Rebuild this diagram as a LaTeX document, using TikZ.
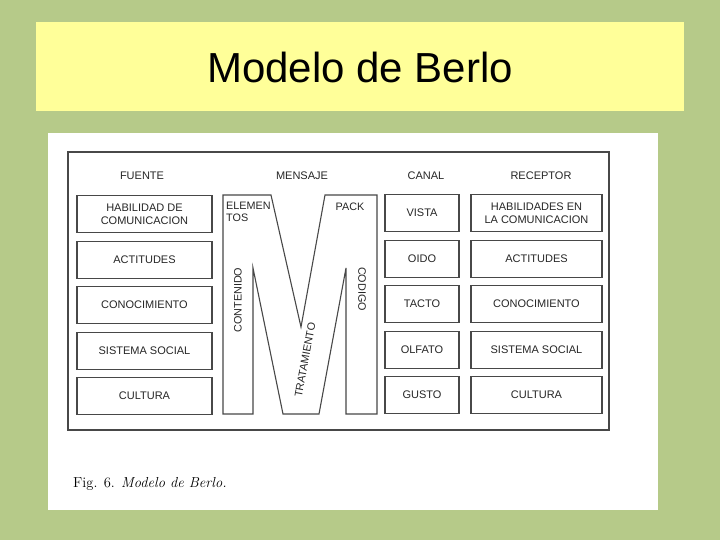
\documentclass[tikz,border=0pt]{standalone}
\usepackage{fontspec}
\setsansfont{Liberation Sans}

\definecolor{slidegreen}{RGB}{182,202,137}
\definecolor{titleyellow}{RGB}{255,255,153}
\definecolor{inkgray}{RGB}{72,72,72}

\newcommand*{\frmleft}{68}
\newcommand*{\frmright}{609}
\newcommand*{\frmtop}{152}
\newcommand*{\frmbottom}{430}
\newcommand*{\cellh}{37}

\begin{document}
\begin{tikzpicture}
[
	x=1pt,
	y=-1pt,
	cellbox/.style={draw=inkgray,line width=1.1pt,inner sep=0pt,minimum height=\cellh pt,
		align=center,text=black!85,font=\sffamily\fontsize{11}{13}\selectfont},
	heading/.style={text=black!85,font=\sffamily\fontsize{11}{13}\selectfont},
	mlabel/.style={inner sep=0pt,text=black!85,font=\sffamily\fontsize{10.8}{12}\selectfont},
	titletext/.style={font=\sffamily\fontsize{42}{50}\selectfont}
]

	% slide
	\fill[slidegreen] (0,0) rectangle (720,540);
	\useasboundingbox (0,0) rectangle (720,540);
	\fill[titleyellow] (36,22) rectangle (684,111);
	\node[titletext] (title) at (360,67) {Modelo de Berlo};
	\fill[white] (48,133) rectangle (658,510);

	% frame
	\draw[inkgray,line width=1.1pt] (\frmleft,\frmtop) rectangle (\frmright,\frmbottom);

	\node[heading] (fuente) at (142,176) {FUENTE};
	\node[heading] (mensaje) at (302,176) {MENSAJE};
	\node[heading] (canal) at (426,176) {CANAL};
	\node[heading] (receptor) at (541,176) {RECEPTOR};

	% columns of boxes
	\foreach \y/\txt [count=\i] in {214/{HABILIDAD DE\\COMUNICACION},260/ACTITUDES,
		305/CONOCIMIENTO,351/SISTEMA SOCIAL,396/CULTURA} {
		\node[cellbox,minimum width=135pt] (fuente\i) at (144.5,\y) {\txt};
	}
	\foreach \y/\txt [count=\i] in {213/VISTA,259/OIDO,304/TACTO,350/OLFATO,395/GUSTO} {
		\node[cellbox,minimum width=74pt] (canal\i) at (422,\y) {\txt};
	}
	\foreach \y/\txt [count=\i] in {213/{HABILIDADES EN\\LA COMUNICACION},259/ACTITUDES,
		304/CONOCIMIENTO,350/SISTEMA SOCIAL,395/CULTURA} {
		\node[cellbox,minimum width=131pt] (receptor\i) at (536.5,\y) {\txt};
	}

	% the M
	\draw[inkgray,line width=1.1pt,line join=miter]
	  (223,195) -- (271,195) -- (301,327) -- (325,195) -- (377,195)
	  -- (377,414) -- (346,414) -- (346,268) -- (319,414) -- (283,414)
	  -- (253,268) -- (253,414) -- (223,414) -- cycle
	;

	\node[mlabel,anchor=north west,align=left] (elementos) at (226,202) {ELEMEN\\TOS};
	\node[mlabel] (pack) at (350,207) {PACK};
	\node[mlabel,rotate=90] (contenido) at (238,300) {CONTENIDO};
	\node[mlabel,rotate=-90] (codigo) at (362,289) {CODIGO};
	\node[mlabel,rotate=79.5] (tratamiento) at (305,360) {TRATAMIENTO};

	% caption
	\node[anchor=base west,inner sep=0pt,font=\fontsize{14.5}{17}\selectfont] (caption)
	  at (73,487) {Fig. 6. \textit{Modelo de Berlo.}};

\end{tikzpicture}
\end{document}
